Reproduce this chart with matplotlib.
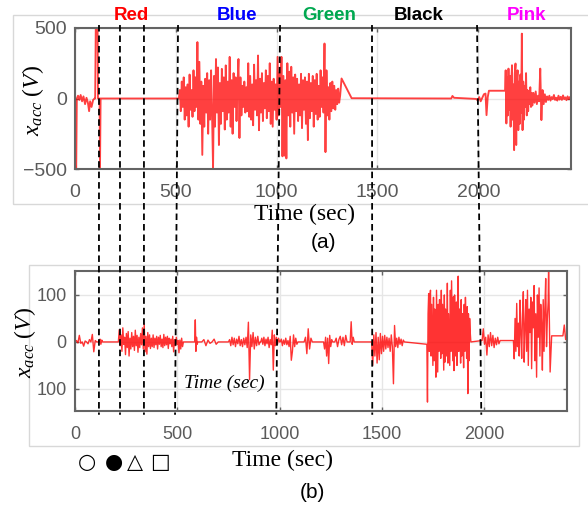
import numpy as np
import matplotlib.pyplot as plt
from matplotlib.lines import Line2D
from matplotlib.patches import Rectangle

plt.rcParams['mathtext.fontset'] = 'custom'
plt.rcParams['mathtext.it'] = 'Liberation Serif:italic'
plt.rcParams['mathtext.rm'] = 'Liberation Serif'

W, H = 588, 512

# ---------------- panel (a): raw x acceleration ----------------
A_ONSET_T = [0, 2, 6, 9, 15, 22, 28, 35, 42, 50, 57, 64, 70, 75, 82, 90, 97,
             100, 103, 112, 114, 122, 124, 127, 515]
A_ONSET_V = [-80, -500, -500, 0, 20, -10, 25, -20, 15, -40, 5, -30, -90, -20,
             -60, -10, 0, 0, 500, 500, 0, 0, -500, 0, 0]

A_BURST1 = [0, 60, -90, 120, -60, 150, -150, 80, -120, 100,
            -200, 170, -80, 60, -130, 200, -90, 150, -60, 400,
            -150, 260, -180, 120, -400, 90, -200, 140, -100, 180,
            -250, 130, -150, 200, -120, -495, 160, -200, 280, -100,
            220, -330, 110, -180, 210, -90, 150, -220, 235, -150,
            120, -100, 295, -200, 130, -250, 180, -60, 150, -160,
            100, 280, -280, 150, -120, 90, -60, 120, -100, 80,
            -90, 250, -130, 160, -150, 100, -190, 240, -80, 130,
            -120, 305, -225, 140, -100, 180, -160, 110, -70, 200,
            -140, 160, -90, 250, -180, 120, -200, 140, -80, 100,
            -150, 295, -120, 180, -60, 295, -410, 160, -405, 130,
            -425, 250, -120, 190, -200, 225, -100, 150, -250, 170,
            -90, 140, -160, 100, -120, 175, -210, 130, -80, 150,
            -180, 120, -295, 175, -140, 110, -90, 160, -200, 130,
            -110, 175, -150, 90, -130, 200, -60, 150, -100, 390,
            -380, 200, -120, 80, -150, 110, -90, 120, -70, 90,
            -80, 60, -40, 70, -30, 20]

A_QUIET_T = [1322, 1372, 1866, 1872, 1880, 1990, 1998, 2005, 2012, 2020,
             2028, 2036, 2041, 2047, 2053, 2133]
A_QUIET_V = [142, 2, 0, 18, 5, -3, -15, 10, -20, 5, 30, 35, -118, 10, 55, 55]

A_BURST2 = [200, -177, 150, -120, 212, -80, 160, -200, 120, 236,
            -150, 100, -366, 180, 248, -330, 140, 200, -224, 120,
            -180, 170, -100, 460, -224, 120, -150, 90, -60, 180,
            -120, 60, -90, 50, -40, 80, -60, 40]

A_TAIL = [-50, 40, -30, 50, -40, 20, -20, 212, -153, 60, -40, 30, -25, 15,
          -10, 20, -15, 10, -5, 25, -10, 5, -15, 20, -8, 12, -10, 22, -5, 8,
          -12, 15, -5, 10, 0]

# ---------------- panel (b): filtered x acceleration ----------------
B_START = [0, 3, -2, 14, -3, 0, -9, 2, 0, -4, 5, 0, 16, -21, 3, 0]
B_BLIP = [0, 6, -5, 4, 0]
B_RED = [0, 26, -8, 15, -20, 30, -5, 10, -27, 18, -12, 22, -30, 8, -15, 20,
         -10, 12,
         -18, 25, -8, 14, -22, 10, -12, 18, -6, 30, -15, 38, -21, 12, -26, 20,
         -10, 15, -14, 8,
         -10, 15, -12, 8, -6, 12, -15, 10, -5, 14, -10, 6, -12, 16, -8, 10,
         -6, 12, -14, 8, -4, 6, -10, 12, -21, 5, -8, 10, -5, 3, -23, 4, -15,
         8, -10, 0]
B_SPIKE = [0, 47, -20, 10, -5, 0]
B_SMALL = [0, 5, -8, 4, -3, 0, 6, -5, 0]
B_BLUE1 = [0, 5, -8, 10, -6, 8, -10, 6, -4, 12, -8, 5, -10, 8, -6, 10, -12,
           42, -80, 15, -10, 20, -15, 10, -8, 12, -6, 0]
B_BLUE2 = [0, 8, -5, 10, -8, 6, -4, 10, -12, 5, -6, 25, -60, 15, -8, 10, -5,
           8, 0]
B_GREEN1 = [0, 6, -8, 4, -5, 8, -6, 3, -10, 12, -39, -20, 15, -10, 8, -5, 0]
B_GREEN2 = [0, 10, -25, 28, -15, 8, 0]
B_GREEN3 = [0, -15, 10, -30, 8, -46, 14, -10, 5, 0]
B_GREEN4 = [0, 8, -10, 5, 12, -6, 10, -8, 14, 0]
B_GREEN5 = [0, 43, -5, 10, 0]
B_BLACK1 = [0, -50, 15, -30, 20, -45, 10, -38, 18, -25, 12, -20, 14, -15, 10,
            -12, 8, -20, 15, -10, -89, 35, -10, 8, -12, 10, -5, 6, -8, 4, 0]
B_BLACK2 = [-5, -128, 60, 103, -20, 95, 110, -30, 80, 20, -50, 95, -40, 70,
            -10, -75, 110, 30, -64, 80, -20, 90, 40, -35, 110, -25, 80, 10,
            -60, 100, -43, 70, 20, -30, 125, -45, 60, 0, -50, 110, -20, 130,
            50, -40, 96, -61, 100, 20, -30, 85, -50, 60, 140, -20, 70, 30,
            -45, 90, -30, 60, 10, -55, 80, -20, 95, 40, -35, 75, -110, 60,
            -40, 50, 20, 0]
B_PINK0 = [3, 28, -5, 10, -28, 15, -10, 20, -8, 14, -12, 8, -6, 10, -4, 3]
B_PINK1 = [3, -36, 50, -20, 82, -10, 40, -30, 89, 20, -35, 60, 107, -43, 30,
           90, -20, 110, -50, 70, 20, 95, -57, 85, 30, 120, -40, 60, -75, 100,
           10, 115, -30, 80, 40, -60, 90, -20, 70, 135, -10, 50, 85]
B_PINK2 = [160, -64, 13]
B_END = [13, 36, 5, 13]

# activity boundaries (sec) in each panel
BOUND_A = [119, 223, 342, 511, 1017, 1473, 1994]
BOUND_B = [117, 220, 337, 489, 984, 1453, 1986]

ACTIVITIES = ['Red', 'Blue', 'Green', 'Black', 'Pink']
ACT_COLORS = ['#ff0000', '#0000ff', '#00a850', '#000000', '#ff00ff']
ACT_X = [131, 237, 329, 419, 527]


def spread(pieces):
    ts, vs = [], []
    for t0, t1, vals in pieces:
        ts.append(np.linspace(t0, t1, len(vals)))
        vs.append(np.asarray(vals, float))
    return np.concatenate(ts), np.concatenate(vs)


t_a = np.concatenate([A_ONSET_T, np.linspace(515, 1315, len(A_BURST1)),
                      A_QUIET_T, np.linspace(2136, 2265, len(A_BURST2)),
                      np.linspace(2268, 2460, len(A_TAIL))])
v_a = np.concatenate([A_ONSET_V, A_BURST1, A_QUIET_V, A_BURST2, A_TAIL])

t_b, v_b = spread([(0, 106, B_START), (118, 135, B_BLIP), (212, 530, B_RED),
                   (585, 600, B_SPIKE), (620, 700, B_SMALL),
                   (750, 905, B_BLUE1), (908, 1000, B_BLUE2),
                   (1003, 1090, B_GREEN1), (1120, 1160, B_GREEN2),
                   (1215, 1260, B_GREEN3), (1270, 1330, B_GREEN4),
                   (1345, 1365, B_GREEN5), (1450, 1610, B_BLACK1),
                   (1720, 1935, B_BLACK2), (1990, 2078, B_PINK0),
                   (2143, 2313, B_PINK1), (2315, 2330, B_PINK2),
                   (2385, 2405, B_END)])


def px(x, y):
    return x / W, 1 - y / H


fig = plt.figure(figsize=(W / 100, H / 100), dpi=100)

# light frames around each panel
fig.add_artist(Rectangle(px(13, 204), (600 - 13) / W, 189 / H, fill=False,
                         edgecolor='#d8d8d8', lw=1, transform=fig.transFigure))
fig.add_artist(Rectangle(px(29, 446), 550 / W, 181 / H, fill=False,
                         edgecolor='#d8d8d8', lw=1, transform=fig.transFigure))

ax_a = fig.add_axes([75 / W, 1 - 169 / H, 496 / W, 141 / H])
ax_b = fig.add_axes([75 / W, 1 - 411 / H, 492 / W, 140 / H])

ax_a.plot(t_a, v_a, color='#ff0000', lw=1.35, alpha=0.75)
ax_b.plot(t_b, v_b, color='#ff0000', lw=1.0, alpha=0.8)

ax_a.set_xlim(0, 2460)
ax_a.set_ylim(-500, 500)
ax_a.set_yticks([-500, 0, 500])
ax_b.set_xlim(0, 2405)
ax_b.set_ylim(-147, 151)
ax_b.set_yticks([-100, 0, 100])
ax_b.set_yticklabels(['100', '0', '100'])

for ax, fs in [(ax_a, 14), (ax_b, 13)]:
    ax.set_xticks([0, 500, 1000, 1500, 2000])
    ax.grid(True, color='#e6e6e6', lw=1)
    ax.set_axisbelow(True)
    for s in ax.spines.values():
        s.set_color('#646464')
        s.set_linewidth(1.5)
    ax.tick_params(direction='in', length=3, width=1, color='#646464',
                   top=True, right=True, labelsize=fs, labelcolor='#5a5a5a')
    ax.tick_params(axis='x', pad=11)
    ax.tick_params(axis='y', pad=6)
    for lab in ax.get_xticklabels() + ax.get_yticklabels():
        lab.set_family('Liberation Sans')

# dashed boundaries running through both panels
to_fig = fig.transFigure.inverted()
for xa, xb in zip(BOUND_A, BOUND_B):
    p_top = to_fig.transform(ax_a.transData.transform((xa, 521)))
    p_bot = to_fig.transform(ax_b.transData.transform((xb, -155)))
    fig.add_artist(Line2D([p_top[0], p_bot[0]], [p_top[1], p_bot[1]],
                          transform=fig.transFigure, color='black', lw=1.3,
                          linestyle=(0, (3.6, 2.2)), zorder=5))

for name, c, x in zip(ACTIVITIES, ACT_COLORS, ACT_X):
    fig.text(*px(x, 15), name, color=c, fontsize=13.5, weight='bold',
             family='Liberation Sans', ha='center', va='center')

ylab = r'$x_{acc}\ (V)$'
fig.text(*px(33, 100), ylab, rotation=90, fontsize=17, ha='center', va='center')
fig.text(*px(25, 342), ylab, rotation=90, fontsize=17, ha='center', va='center')

fig.text(*px(304, 214), 'Time (sec)', fontsize=17, family='Liberation Serif',
         ha='center', va='center')
fig.text(*px(282, 460), 'Time (sec)', fontsize=17, family='Liberation Serif',
         ha='center', va='center')
fig.text(*px(224, 383), 'Time (sec)', fontsize=14, family='Liberation Serif',
         style='italic', ha='center', va='center')

fig.text(*px(324, 243), '(a)', fontsize=15, family='Liberation Sans',
         ha='center', va='center')
fig.text(*px(312, 492), '(b)', fontsize=15, family='Liberation Sans',
         ha='center', va='center')

for sym, x in zip(['○', '●', '△', '□'], [87, 114, 135, 160]):
    fig.text(*px(x, 462), sym, fontsize=15, family='DejaVu Sans',
             weight='bold', ha='center', va='center')

fig.savefig('out.png', dpi=100)
